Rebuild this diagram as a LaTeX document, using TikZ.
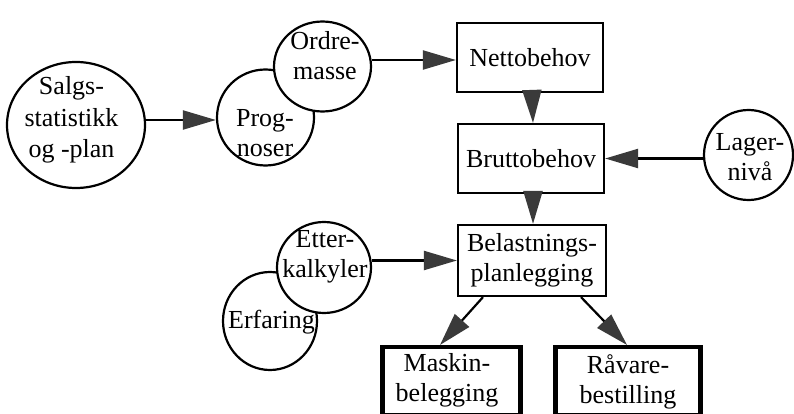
\documentclass[tikz,border=0pt]{standalone}
\usepackage{fontspec}
\setmainfont{Liberation Serif}
\newfontfamily\diagfont{Liberation Serif}
\usetikzlibrary{arrows.meta,shapes.geometric}
\definecolor{headgray}{HTML}{3A3A3A}
\tikzset{
  x=1pt, y=-1pt,
  labelfont/.style={font=\diagfont\fontsize{26}{30}\selectfont},
  txt/.style={labelfont, align=center, inner sep=0pt},
  bubble/.style={draw, ellipse, line width=2.2pt, fill=white, inner sep=0pt},
  plainbox/.style={draw, rectangle, line width=2.2pt, inner sep=0pt,
    labelfont, align=center},
  heavybox/.style={draw, rectangle, line width=4.5pt, inner sep=0pt},
  flow/.style={line width=2.2pt,
    -{Triangle[length=33pt, width=19pt, color=headgray]}},
}
\begin{document}
\begin{tikzpicture}
\path[use as bounding box, clip] (0,0) rectangle (794,414);

% input bubbles on the left
\node[bubble, minimum width=138pt, minimum height=126pt] (salgs) at (76,125) {};
\node[txt, font=\diagfont\fontsize{26}{31.5}\selectfont] (salgs-t) at (71.5,120) {Salgs-\\statistikk\\og -plan};

\node[bubble, minimum width=97pt, minimum height=96pt] (prog) at (265.5,117.5) {};
\node[txt] (prog-t) at (265,133) {Prog-\\noser};
\node[bubble, minimum width=97pt, minimum height=90pt] (ordre) at (322.5,66.5) {};
\node[txt] (ordre-t) at (325,56) {Ordre-\\masse};

\node[bubble, minimum width=94pt, minimum height=98pt] (erfaring) at (270,321) {};
\node[txt] (erfaring-t) at (271.5,322) {Erfaring};
\node[bubble, minimum width=94pt, minimum height=91pt] (etter) at (324,267.5) {};
\node[txt] (etter-t) at (325,257) {Etter-\\kalkyler};

\node[bubble, minimum width=89pt, minimum height=90pt] (lager) at (748.5,155) {};
\node[txt] (lager-t) at (750,157) {Lager-\\nivå};

% planning chain
\node[plainbox, minimum width=146pt, minimum height=69pt] (netto) at (530,57.5) {Nettobehov};
\node[plainbox, minimum width=146pt, minimum height=69pt] (brutto) at (531,158.5) {Bruttobehov};
\node[plainbox, minimum width=148pt, minimum height=71pt] (belast) at (532,260.5) {Belastnings-\\planlegging};

% results
\node[heavybox, minimum width=138pt, minimum height=67.75pt] (mask) at (451.5,381.1) {};
\node[txt] (mask-t) at (447,380.4) {Maskin-\\belegging};
\node[heavybox, minimum width=145pt, minimum height=67.75pt] (raav) at (628,381.1) {};
\node[txt] (raav-t) at (628,382) {Råvare-\\bestilling};

% connectors
\draw[flow] ([yshift=5pt]salgs.east) -- ([yshift=-2.5pt]prog.west);
\draw[flow] ([yshift=6.5pt]ordre.east) -- ([yshift=-2.5pt]netto.west);
\draw[flow] ([xshift=2pt]netto.south) -- ([xshift=2pt]brutto.north);
\draw[flow] (lager.west |- brutto.east) -- (brutto.east);
\draw[flow] ([xshift=2pt]brutto.south) -- ([xshift=1pt]belast.north);
\draw[flow] (etter.east |- belast.west) -- (belast.west);
\draw[flow] ([xshift=-49pt]belast.south) -- ([xshift=-11.5pt]mask.north);
\draw[flow] ([xshift=49pt]belast.south) -- ([xshift=-1pt]raav.north);
\end{tikzpicture}
\end{document}
